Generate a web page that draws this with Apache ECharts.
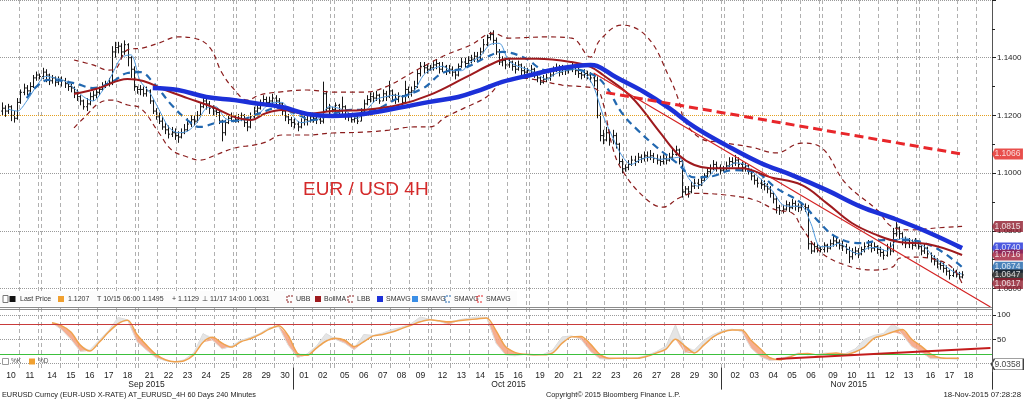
<!DOCTYPE html>
<html><head><meta charset="utf-8">
<script src="https://cdn.jsdelivr.net/npm/echarts@6/dist/echarts.min.js"></script>
<style>html,body{margin:0;padding:0;background:#fff;}#c{width:1024px;height:401px;}</style>
</head><body><div id="c"></div>
<script>
// ---------- DATA ----------
const tradingDays = ['Sep 10','Sep 11','*','Sep 14','Sep 15','Sep 16','Sep 17','Sep 18','*','Sep 21','Sep 22','Sep 23','Sep 24','Sep 25','*',
 'Sep 28','Sep 29','Sep 30','Oct 01','Oct 02','*','Oct 05','Oct 06','Oct 07','Oct 08','Oct 09','*','Oct 12','Oct 13','Oct 14','Oct 15','Oct 16','*',
 'Oct 19','Oct 20','Oct 21','Oct 22','Oct 23','*','Oct 26','Oct 27','Oct 28','Oct 29','Oct 30','*','Nov 02','Nov 03','Nov 04','Nov 05','Nov 06','*',
 'Nov 09','Nov 10','Nov 11','Nov 12','Nov 13','*','Nov 16','Nov 17','Nov 18'];
const monthNames = {Sep:'Sep 2015', Oct:'Oct 2015', Nov:'Nov 2015'};
const firstOpen = 1.1215;
const close = [
 1.1225,1.1215,1.1230,1.1200,1.1190,1.1245, 1.1280,1.1295,1.1285,1.1300,1.1330,1.1340, 1.1335,
 1.1350,1.1340,1.1320,1.1330,1.1315,1.1325, 1.1320,1.1310,1.1300,1.1295,1.1280,1.1265, 1.1250,1.1230,1.1240,1.1265,1.1270,1.1280, 1.1290,1.1300,1.1310,1.1315,1.1420,1.1435, 1.1440,1.1420,1.1445,1.1400,1.1360,1.1300, 1.1290,
 1.1290,1.1275,1.1285,1.1250,1.1215,1.1195, 1.1180,1.1160,1.1150,1.1135,1.1140,1.1130, 1.1125,1.1140,1.1150,1.1170,1.1185,1.1180, 1.1200,1.1230,1.1250,1.1240,1.1225,1.1215, 1.1210,1.1180,1.1140,1.1175,1.1190,1.1195, 1.1185,
 1.1190,1.1200,1.1175,1.1160,1.1195,1.1215, 1.1225,1.1240,1.1255,1.1245,1.1250,1.1260, 1.1250,1.1240,1.1215,1.1195,1.1185,1.1175, 1.1170,1.1160,1.1175,1.1185,1.1180,1.1195, 1.1190,1.1185,1.1180,1.1275,1.1225,1.1215, 1.1220,
 1.1235,1.1215,1.1230,1.1200,1.1195,1.1185, 1.1190,1.1180,1.1215,1.1240,1.1255,1.1265, 1.1260,1.1270,1.1250,1.1275,1.1265,1.1285, 1.1270,1.1255,1.1265,1.1245,1.1290,1.1280, 1.1285,1.1300,1.1345,1.1370,1.1365,1.1360, 1.1365,
 1.1375,1.1380,1.1360,1.1370,1.1355,1.1360, 1.1350,1.1340,1.1370,1.1385,1.1380,1.1390, 1.1395,1.1405,1.1400,1.1420,1.1445,1.1470, 1.1480,1.1460,1.1420,1.1385,1.1390,1.1375, 1.1385,1.1370,1.1360,1.1375,1.1355,1.1350, 1.1355,
 1.1360,1.1345,1.1330,1.1315,1.1325,1.1330, 1.1340,1.1355,1.1365,1.1350,1.1360,1.1355, 1.1360,1.1370,1.1355,1.1345,1.1340,1.1345, 1.1340,1.1330,1.1320,1.1200,1.1130,1.1115, 1.1140,1.1115,1.1130,1.1100,1.1040,1.1015, 1.1020,
 1.1030,1.1045,1.1040,1.1055,1.1050,1.1060, 1.1055,1.1060,1.1050,1.1045,1.1040,1.1050, 1.1045,1.1055,1.1065,1.1080,1.1040,1.0935, 1.0945,1.0935,1.0955,1.0965,1.0960,1.0975, 1.0990,1.1005,1.1015,1.1030,1.1020,1.1010, 1.1015,
 1.1025,1.1040,1.1035,1.1045,1.1030,1.1020, 1.1025,1.1010,1.0990,1.0975,1.0965,1.0960, 1.0955,1.0945,1.0930,1.0910,1.0880,1.0870, 1.0875,1.0890,1.0880,1.0895,1.0885,1.0880, 1.0885,1.0880,1.0755,1.0730,1.0745,1.0740, 1.0735,
 1.0750,1.0740,1.0755,1.0765,1.0760,1.0750, 1.0745,1.0735,1.0710,1.0725,1.0730,1.0720, 1.0735,1.0745,1.0750,1.0740,1.0745,1.0735, 1.0725,1.0715,1.0740,1.0730,1.0790,1.0810, 1.0790,1.0770,1.0755,1.0760,1.0750,1.0765, 1.0745,
 1.0730,1.0740,1.0720,1.0705,1.0695,1.0685, 1.0680,1.0670,1.0660,1.0645,1.0655,1.0650, 1.0640,1.0647];
const high = [
 1.1245,1.1235,1.1240,1.1235,1.1215,1.1260, 1.1290,1.1310,1.1305,1.1315,1.1340,1.1352, 1.1345,
 1.1365,1.1360,1.1345,1.1340,1.1335,1.1335, 1.1335,1.1330,1.1320,1.1310,1.1300,1.1290, 1.1270,1.1255,1.1260,1.1280,1.1285,1.1295, 1.1300,1.1315,1.1320,1.1330,1.1440,1.1455, 1.1455,1.1450,1.1460,1.1450,1.1405,1.1370, 1.1300,
 1.1305,1.1300,1.1300,1.1290,1.1255,1.1225, 1.1210,1.1195,1.1175,1.1165,1.1160,1.1155, 1.1145,1.1155,1.1170,1.1190,1.1200,1.1200, 1.1215,1.1245,1.1265,1.1260,1.1250,1.1235, 1.1225,1.1220,1.1185,1.1185,1.1205,1.1210, 1.1200,
 1.1205,1.1210,1.1205,1.1185,1.1210,1.1230, 1.1240,1.1255,1.1270,1.1265,1.1265,1.1275, 1.1270,1.1260,1.1245,1.1225,1.1205,1.1195, 1.1190,1.1180,1.1190,1.1200,1.1200,1.1210, 1.1205,1.1200,1.1195,1.1317,1.1285,1.1240, 1.1230,
 1.1245,1.1240,1.1265,1.1235,1.1210,1.1205, 1.1205,1.1200,1.1225,1.1255,1.1270,1.1280, 1.1280,1.1285,1.1275,1.1290,1.1285,1.1320, 1.1290,1.1275,1.1280,1.1270,1.1320,1.1300, 1.1300,1.1320,1.1360,1.1385,1.1385,1.1375, 1.1375,
 1.1390,1.1392,1.1385,1.1385,1.1375,1.1375, 1.1370,1.1360,1.1380,1.1400,1.1400,1.1405, 1.1410,1.1420,1.1420,1.1435,1.1465,1.1480, 1.1490,1.1495,1.1470,1.1430,1.1405,1.1400, 1.1400,1.1390,1.1385,1.1390,1.1380,1.1370, 1.1365,
 1.1375,1.1365,1.1350,1.1335,1.1340,1.1345, 1.1350,1.1370,1.1380,1.1375,1.1375,1.1370, 1.1375,1.1385,1.1375,1.1365,1.1355,1.1360, 1.1355,1.1350,1.1345,1.1335,1.1210,1.1150, 1.1160,1.1150,1.1150,1.1140,1.1105,1.1050, 1.1030,
 1.1045,1.1060,1.1060,1.1070,1.1065,1.1075, 1.1075,1.1080,1.1070,1.1065,1.1060,1.1065, 1.1060,1.1070,1.1085,1.1095,1.1085,1.1045, 1.0955,1.0955,1.0970,1.0980,1.0980,1.0990, 1.1000,1.1020,1.1030,1.1045,1.1040,1.1030, 1.1025,
 1.1040,1.1055,1.1055,1.1063,1.1055,1.1040, 1.1035,1.1030,1.1015,1.0995,1.0985,1.0980, 1.0975,1.0965,1.0955,1.0935,1.0920,1.0890, 1.0890,1.0905,1.0900,1.0910,1.0905,1.0895, 1.0895,1.0895,1.0890,1.0765,1.0760,1.0755, 1.0745,
 1.0760,1.0755,1.0770,1.0785,1.0780,1.0770, 1.0765,1.0755,1.0745,1.0740,1.0745,1.0740, 1.0745,1.0760,1.0768,1.0760,1.0760,1.0750, 1.0745,1.0735,1.0755,1.0760,1.0810,1.0830, 1.0815,1.0795,1.0780,1.0775,1.0770,1.0775, 1.0755,
 1.0750,1.0755,1.0745,1.0725,1.0715,1.0705, 1.0695,1.0690,1.0680,1.0665,1.0670,1.0665, 1.0658,1.0660];
const low = [
 1.1200,1.1195,1.1205,1.1180,1.1175,1.1185, 1.1240,1.1270,1.1270,1.1280,1.1295,1.1320, 1.1325,
 1.1325,1.1315,1.1305,1.1310,1.1300,1.1305, 1.1300,1.1295,1.1285,1.1280,1.1260,1.1250, 1.1235,1.1220,1.1215,1.1235,1.1250,1.1260, 1.1270,1.1285,1.1295,1.1300,1.1305,1.1400, 1.1415,1.1400,1.1410,1.1370,1.1330,1.1285, 1.1275,
 1.1270,1.1265,1.1265,1.1240,1.1205,1.1185, 1.1170,1.1150,1.1135,1.1120,1.1125,1.1115, 1.1105,1.1120,1.1135,1.1145,1.1160,1.1165, 1.1175,1.1195,1.1225,1.1220,1.1205,1.1200, 1.1195,1.1170,1.1110,1.1130,1.1170,1.1180, 1.1175,
 1.1175,1.1180,1.1160,1.1145,1.1155,1.1190, 1.1200,1.1220,1.1235,1.1230,1.1235,1.1240, 1.1235,1.1225,1.1200,1.1180,1.1170,1.1160, 1.1155,1.1145,1.1155,1.1165,1.1165,1.1175, 1.1175,1.1170,1.1170,1.1172,1.1215,1.1200, 1.1210,
 1.1210,1.1200,1.1205,1.1185,1.1180,1.1175, 1.1175,1.1170,1.1180,1.1210,1.1235,1.1245, 1.1245,1.1250,1.1240,1.1250,1.1250,1.1260, 1.1250,1.1240,1.1245,1.1235,1.1240,1.1260, 1.1265,1.1280,1.1295,1.1335,1.1345,1.1345, 1.1355,
 1.1355,1.1360,1.1345,1.1350,1.1340,1.1345, 1.1335,1.1325,1.1335,1.1365,1.1365,1.1370, 1.1380,1.1385,1.1385,1.1395,1.1415,1.1440, 1.1460,1.1445,1.1410,1.1375,1.1370,1.1360, 1.1365,1.1355,1.1345,1.1355,1.1340,1.1340, 1.1345,
 1.1345,1.1330,1.1315,1.1305,1.1310,1.1315, 1.1320,1.1335,1.1350,1.1335,1.1340,1.1340, 1.1345,1.1350,1.1340,1.1330,1.1325,1.1330, 1.1325,1.1315,1.1300,1.1190,1.1110,1.1100, 1.1110,1.1095,1.1100,1.1085,1.1030,1.1000, 1.1005,
 1.1010,1.1025,1.1025,1.1035,1.1035,1.1040, 1.1040,1.1045,1.1035,1.1030,1.1025,1.1030, 1.1030,1.1040,1.1050,1.1060,1.1030,1.0915, 1.0925,1.0915,1.0930,1.0945,1.0945,1.0955, 1.0970,1.0985,1.0995,1.1010,1.1005,1.0995, 1.1005,
 1.1005,1.1020,1.1020,1.1025,1.1015,1.1005, 1.1005,1.0995,1.0975,1.0960,1.0950,1.0945, 1.0940,1.0930,1.0915,1.0895,1.0860,1.0855, 1.0860,1.0870,1.0865,1.0875,1.0870,1.0865, 1.0870,1.0865,1.0735,1.0720,1.0725,1.0725, 1.0725,
 1.0725,1.0725,1.0735,1.0745,1.0745,1.0735, 1.0730,1.0720,1.0688,1.0700,1.0715,1.0705, 1.0715,1.0725,1.0735,1.0725,1.0730,1.0720, 1.0710,1.0700,1.0710,1.0715,1.0725,1.0780, 1.0770,1.0750,1.0740,1.0740,1.0735,1.0745, 1.0735,
 1.0715,1.0720,1.0705,1.0690,1.0680,1.0670, 1.0665,1.0655,1.0645,1.0631,1.0640,1.0638, 1.0632,1.0635];

// moving averages / bands as [bar, value]
const thinBlue = [[2,1.1222],[5,1.1215],[8,1.1250],[11,1.1300],[14,1.1335],[17,1.1330],[20,1.1320],[23,1.1295],[26,1.1265],[29,1.1250],[32,1.1285],[35,1.1340],[38,1.1400],[41,1.1410],[44,1.1320],[47,1.1280],[50,1.1220],[53,1.1160],[56,1.1140],[59,1.1145],[62,1.1175],[65,1.1225],[68,1.1230],[71,1.1190],[74,1.1180],[77,1.1185],[80,1.1185],[83,1.1220],[86,1.1245],[89,1.1245],[92,1.1205],[95,1.1175],[98,1.1180],[101,1.1190],[104,1.1230],[107,1.1225],[110,1.1210],[113,1.1190],[116,1.1220],[119,1.1255],[122,1.1265],[125,1.1270],[128,1.1265],[131,1.1285],[134,1.1340],[137,1.1362],[140,1.1370],[143,1.1355],[146,1.1355],[149,1.1385],[152,1.1405],[155,1.1445],[158,1.1450],[161,1.1390],[164,1.1370],[167,1.1360],[170,1.1345],[173,1.1325],[176,1.1345],[179,1.1355],[182,1.1360],[185,1.1347],[188,1.1300],[191,1.1200],[194,1.1125],[197,1.1060],[200,1.1030],[203,1.1048],[206,1.1055],[209,1.1048],[212,1.1050],[215,1.1055],[218,1.0985],[221,1.0955],[224,1.0980],[227,1.1015],[230,1.1018],[233,1.1035],[236,1.1030],[239,1.1000],[242,1.0970],[245,1.0935],[248,1.0890],[251,1.0885],[254,1.0885],[257,1.0825],[260,1.0745],[263,1.0745],[266,1.0757],[269,1.0735],[272,1.0720],[275,1.0740],[278,1.0742],[281,1.0730],[284,1.0765],[287,1.0775],[290,1.0760],[293,1.0745],[296,1.0710],[299,1.0685],[302,1.0660],[305,1.0650]];
const dashBlue = [[8,1.1260],[11,1.1299],[15,1.1323],[23,1.1312],[29,1.1295],[35,1.1316],[40,1.1347],[44,1.1350],[48,1.1316],[54,1.1236],[59,1.1184],[63,1.1160],[69,1.1177],[76,1.1184],[82,1.1208],[88,1.1226],[93,1.1208],[99,1.1184],[105,1.1205],[111,1.1219],[117,1.1219],[126,1.1260],[134,1.1295],[140,1.1347],[147,1.1364],[154,1.1402],[159,1.1420],[166,1.1400],[173,1.1357],[181,1.1360],[188,1.1340],[192,1.1299],[197,1.1208],[202,1.1149],[208,1.1090],[215,1.1030],[220,1.0985],[226,1.0990],[232,1.1010],[239,1.1004],[246,1.0948],[254,1.0896],[259,1.0837],[265,1.0779],[273,1.0757],[280,1.0768],[287,1.0768],[296,1.0744],[305,1.0674]];
const bollMA = [[23,1.1274],[31,1.1295],[40,1.1326],[45,1.1319],[52,1.1288],[59,1.1260],[67,1.1229],[74,1.1194],[79,1.1184],[84,1.1208],[89,1.1219],[97,1.1205],[105,1.1215],[115,1.1219],[126,1.1236],[136,1.1271],[147,1.1330],[157,1.1385],[161,1.1396],[170,1.1396],[181,1.1385],[187,1.1368],[191,1.1340],[200,1.1264],[209,1.1142],[215,1.1063],[220,1.1028],[225,1.1017],[235,1.1017],[244,1.0986],[254,1.0959],[262,1.0896],[270,1.0827],[278,1.0785],[285,1.0761],[294,1.0754],[305,1.0716]];
const thickBlue = [[48,1.1295],[56,1.1288],[65,1.1264],[74,1.1253],[80,1.1243],[89,1.1229],[97,1.1205],[105,1.1198],[115,1.1205],[126,1.1226],[136,1.1247],[145,1.1264],[152,1.1288],[159,1.1316],[168,1.1340],[176,1.1360],[187,1.1375],[189,1.1372],[195,1.1333],[204,1.1281],[212,1.1225],[220,1.1160],[230,1.1097],[241,1.1035],[251,1.0993],[262,1.0941],[273,1.0883],[283,1.0844],[294,1.0796],[305,1.0740]];
const ubb = [[23,1.1392],[29,1.1375],[34,1.1357],[36,1.1360],[40,1.1427],[45,1.1434],[50,1.1451],[56,1.1472],[61,1.1468],[66,1.1437],[70,1.1347],[74,1.1288],[78,1.1253],[82,1.1271],[88,1.1281],[97,1.1288],[105,1.1281],[115,1.1281],[122,1.1299],[133,1.1364],[141,1.1409],[149,1.1444],[156,1.1485],[161,1.1468],[173,1.1472],[181,1.1468],[187,1.1402],[190,1.1461],[197,1.1513],[205,1.1472],[212,1.1333],[215,1.1253],[217,1.1180],[222,1.1120],[228,1.1107],[238,1.1090],[246,1.1070],[254,1.1104],[260,1.1091],[268,1.0965],[278,1.0872],[283,1.0813],[289,1.0803],[297,1.0810],[305,1.0815]];
const lbb = [[23,1.1157],[27,1.1201],[31,1.1243],[35,1.1253],[40,1.1236],[44,1.1226],[50,1.1139],[54,1.1080],[59,1.1056],[63,1.1045],[68,1.1063],[74,1.1087],[80,1.1097],[84,1.1108],[89,1.1132],[97,1.1132],[105,1.1139],[115,1.1142],[123,1.1149],[131,1.1160],[136,1.1160],[141,1.1194],[147,1.1226],[154,1.1264],[159,1.1316],[164,1.1330],[170,1.1323],[178,1.1305],[185,1.1299],[189,1.1290],[191,1.1243],[194,1.1090],[197,1.1011],[204,1.0917],[210,1.0882],[215,1.0913],[220,1.0930],[230,1.0924],[239,1.0907],[246,1.0872],[251,1.0862],[254,1.0813],[260,1.0727],[268,1.0681],[277,1.0664],[283,1.0675],[285,1.0705],[289,1.0709],[297,1.0699],[302,1.0671],[305,1.0617]];
const trendDash = [[192,1.1279],[305,1.1066]];
const trendThin = [[188,1.1347],[314,1.0536]];
const levelLine = 1.1207;

// stochastics
const stochBar = [16,19,22,25,28,31,34,37,40,43,46,49,52,55,58,61,64,67,70,73,76,79,82,85,88,91,94,97,100,103,106,109,112,115,118,121,124,127,130,133,136,139,142,145,148,151,154,157,160,163,166,169,172,175,178,181,184,187,190,193,196,199,202,205,208,211,214,217,220,223,226,229,232,235,238,241,244,247,250,253,256,259,262,265,268,271,274,277,280,283,286,289,292,295,298,301,304];
const stochD = [84,78,65,38,26,44,65,82,89,60, 38,19,8,4,6,18,44,54,42,34, 45,51,60,71,78,58,21,17,32,46, 52,48,35,45,57,60,65,72,79,86, 90,88,86,88,90,92,94,68,35,23, 19,18,18,22,42,55,56,40,19,11, 11,11,11,15,22,30,50,36,22,38, 55,65,69,69,48,30,12,8,13,20, 21,18,20,22,19,24,34,52,58,65, 70,50,36,20,12,11,11];
const stochK = [84,70,50,25,28,48,68,95,90,45, 28,12,6,3,8,22,62,48,30,36, 48,54,62,74,76,38,12,20,36,62, 50,42,28,60,58,63,70,75,82,96, 91,87,80,90,93,96,95,42,18,16, 19,17,19,28,55,57,50,25,10,9, 11,11,12,17,25,36,80,22,28,48, 60,68,71,66,32,14,6,10,15,22, 18,19,22,19,21,30,50,58,62,82, 60,35,24,10,10,10,9.0358];
const stochTrend = [[246,9.5],[314,32]];
const stochUpper = 80, stochLower = 20;

// ---------- BUILD ----------
const totalSlots = 315;
const cats = [], daySep = new Set(), dayLab = {}, catMonth = [];
tradingDays.forEach((d, k) => {
  if (d === '*') { daySep.add(cats.length); cats.push('Sun'); catMonth.push(tradingDays[k+1].split(' ')[0]); return; }
  daySep.add(cats.length); dayLab[cats.length + 3] = d.split(' ')[1];
  for (let h = 0; h < 6; h++) { cats.push(d + ' ' + String(2 + 4*h).padStart(2,'0') + ':00'); catMonth.push(d.split(' ')[0]); }
});
daySep.add(cats.length);
daySep.delete(0);
while (cats.length < totalSlots) { cats.push(''); catMonth.push(''); }
const mStart = {}, mEnd = {};
catMonth.forEach((m, i) => { if (!m) return; if (!(m in mStart)) mStart[m] = i; mEnd[m] = i; });
const monthTick = new Set(Object.values(mStart).filter(i => i > 0));
const monthLab = {};
Object.keys(mStart).forEach(m => { monthLab[Math.round((mStart[m] + mEnd[m]) / 2)] = monthNames[m]; });

const ohlc = close.map((c, i) => [i, i ? close[i-1] : firstOpen, c, low[i], high[i]]);
const sBase = stochBar.map((b, i) => [b, Math.min(stochK[i], stochD[i])]);
const sRed = stochBar.map((b, i) => [b, Math.max(stochD[i] - stochK[i], 0)]);
const sGray = stochBar.map((b, i) => [b, Math.max(stochK[i] - stochD[i], 0)]);
const lastBar = totalSlots - 1;

const badgeSym = 'path://M0,5L3,0L32,0L32,10L3,10Z';
const badges = [
  [trendDash[trendDash.length-1][1], '#e2231f'],
  [ubb[ubb.length-1][1], '#8e1a2c'],
  [thickBlue[thickBlue.length-1][1], '#1f2fd8'],
  [bollMA[bollMA.length-1][1], '#a01c38'],
  [dashBlue[dashBlue.length-1][1], '#1e64aa'],
  [close[close.length-1], '#111111'],
  [lbb[lbb.length-1][1], '#8e1a2c']
].map(([v, c]) => ({value: [lastBar, v], itemStyle: {color: c}}));

const FONT = 'Liberation Sans, Arial, sans-serif';
const mkLine = (data, color, width, type, extra) => Object.assign({
  type: 'line', xAxisIndex: 0, yAxisIndex: 0, data: data, symbol: 'none', smooth: 0.4,
  lineStyle: {color: color, width: width, type: type || 'solid'}, silent: true, z: 4
}, extra || {});

const txt = (t, x, y, size, color, align) => ({
  type: 'text', z: 101, style: {text: t, x: x, y: y, fill: color || '#333', font: size + 'px ' + FONT, verticalAlign: 'middle', align: align || 'left'}
});
const box = (x, y, w, h, fill, stroke) => ({type: 'rect', z: 101, shape: {x: x, y: y, width: w, height: h}, style: {fill: fill, stroke: stroke || null, lineWidth: 1}});
const bracket = (x, y, color) => ({type: 'polyline', z: 101, shape: {points: [[x+6,y],[x,y],[x,y+6],[x+6,y+6]]}, style: {stroke: color, lineWidth: 1, lineDash: [2,1], fill: null}});

const ly = 299;
const option = {
  animation: false,
  backgroundColor: '#ffffff',
  textStyle: {fontFamily: FONT},
  grid: [
    {left: 0, right: 32, top: 0, height: 288.5, containLabel: false, outerBoundsMode: 'none'},
    {left: 0, right: 32, top: 315, height: 48.6, containLabel: false, outerBoundsMode: 'none'},
    {left: 0, right: 32, top: 0, height: 368, containLabel: false, outerBoundsMode: 'none'}
  ],
  xAxis: [
    {type: 'category', gridIndex: 0, position: 'bottom', data: cats, axisLine: {show: false}, axisTick: {show: false}, axisLabel: {show: false}, splitLine: {show: false}},
    {type: 'category', gridIndex: 1, position: 'bottom', data: cats, axisLine: {show: false}, axisTick: {show: false}, splitLine: {show: false},
      axisLabel: {interval: (i) => (i in dayLab), formatter: (v, i) => dayLab[i] || '', fontSize: 8.5, color: '#222', margin: 8, fontFamily: FONT}},
    {type: 'category', gridIndex: 1, position: 'bottom', data: cats, offset: 4, axisLine: {show: false}, splitLine: {show: false},
      axisTick: {show: true, interval: (i) => monthTick.has(i), length: 22, lineStyle: {color: '#333', width: 1}},
      axisLabel: {interval: (i) => (i in monthLab), formatter: (v, i) => monthLab[i] || '', fontSize: 8.5, color: '#222', margin: 13, fontFamily: FONT}},
    {type: 'category', gridIndex: 2, position: 'bottom', data: cats, axisLine: {show: false}, axisTick: {show: false}, axisLabel: {show: false},
      splitLine: {show: true, interval: (i) => daySep.has(i), lineStyle: {color: '#b0b0b0', width: 1, type: [4, 3]}}}
  ],
  yAxis: [
    {type: 'value', gridIndex: 0, position: 'right', min: 1.06, max: 1.16, interval: 0.02,
      axisLine: {show: true, lineStyle: {color: '#555'}},
      axisTick: {show: true, length: 4, lineStyle: {color: '#222'}},
      minorTick: {show: true, splitNumber: 2, length: 3, lineStyle: {color: '#222'}},
      axisLabel: {formatter: (v) => v.toFixed(4), fontSize: 8, color: '#222', margin: 5, showMaxLabel: false, fontFamily: FONT},
      splitLine: {show: true, lineStyle: {color: '#9a9a9a', type: 'dotted', width: 1}}},
    {type: 'value', gridIndex: 1, position: 'right', min: 0, max: 100, interval: 50,
      axisLine: {show: true, lineStyle: {color: '#555'}},
      axisTick: {show: true, length: 4, lineStyle: {color: '#222'}},
      axisLabel: {fontSize: 8, color: '#222', margin: 5, showMinLabel: false, fontFamily: FONT},
      splitLine: {show: true, lineStyle: {color: '#9a9a9a', type: 'dotted', width: 1}}},
    {type: 'value', gridIndex: 2, show: false, min: 0, max: 1}
  ],
  series: [
    {type: 'line', xAxisIndex: 3, yAxisIndex: 2, data: [], silent: true},
    {type: 'custom', xAxisIndex: 0, yAxisIndex: 0, data: ohlc, z: 3, silent: true,
      encode: {x: 0, y: [1, 2, 3, 4]},
      renderItem: function (params, api) {
        const x = api.value(0), o = api.value(1), c = api.value(2), l = api.value(3), h = api.value(4);
        const top = api.coord([x, Math.max(h, o, c)]), bot = api.coord([x, Math.min(l, o, c)]);
        const po = api.coord([x, o]), pc = api.coord([x, c]);
        const w = api.size([1, 0])[0] * 0.45;
        const cx = Math.round(top[0]) + 0.5;
        const st = {stroke: '#151515', lineWidth: 1};
        return {type: 'group', children: [
          {type: 'line', shape: {x1: cx, y1: top[1], x2: cx, y2: bot[1]}, style: st},
          {type: 'line', shape: {x1: cx - w, y1: po[1], x2: cx, y2: po[1]}, style: st},
          {type: 'line', shape: {x1: cx, y1: pc[1], x2: cx + w, y2: pc[1]}, style: st}
        ]};
      }},
    mkLine(thinBlue, '#4f98dc', 1, 'solid', {smooth: 0.3,
      markLine: {silent: true, symbol: 'none', label: {show: false}, lineStyle: {color: '#e3a020', type: 'dotted', width: 1}, data: [{yAxis: levelLine}]}}),
    mkLine(ubb, '#8a1c1c', 1.2, [5, 4]),
    mkLine(lbb, '#8a1c1c', 1.2, [5, 4]),
    mkLine(dashBlue, '#2268b0', 2.2, [7, 5]),
    mkLine(bollMA, '#9e1a1e', 2),
    mkLine(thickBlue, '#1c30d8', 4.5, 'solid', {z: 5}),
    mkLine(trendDash, '#e8262a', 3, [9, 5], {smooth: false, z: 5}),
    mkLine(trendThin, '#d42222', 1.2, 'solid', {smooth: false, clip: false, z: 5}),
    {type: 'scatter', xAxisIndex: 0, yAxisIndex: 0, data: badges, clip: false, silent: true, z: 20,
      symbol: badgeSym, symbolSize: [31, 11], symbolOffset: [17, 0], symbolKeepAspect: false,
      label: {show: true, position: 'inside', formatter: (p) => p.value[1].toFixed(4), color: '#fff', fontSize: 8.5, fontFamily: FONT}},
    // stochastics
    {type: 'line', xAxisIndex: 1, yAxisIndex: 1, data: sBase, stack: 'st', symbol: 'none', lineStyle: {opacity: 0}, silent: true, z: 2},
    {type: 'line', xAxisIndex: 1, yAxisIndex: 1, data: sRed, stack: 'st', symbol: 'none', lineStyle: {opacity: 0}, areaStyle: {color: '#f5a07c', opacity: 0.85}, silent: true, z: 2},
    {type: 'line', xAxisIndex: 1, yAxisIndex: 1, data: sGray, stack: 'st', symbol: 'none', lineStyle: {opacity: 0}, areaStyle: {color: '#e2e2e2', opacity: 0.9}, silent: true, z: 2},
    {type: 'line', xAxisIndex: 1, yAxisIndex: 1, data: stochBar.map((b, i) => [b, stochK[i]]), symbol: 'none', lineStyle: {color: '#dcdcdc', width: 1}, silent: true, z: 3},
    {type: 'line', xAxisIndex: 1, yAxisIndex: 1, data: stochBar.map((b, i) => [b, stochD[i]]), symbol: 'none', smooth: 0.3, lineStyle: {color: '#efa24e', width: 1.5}, silent: true, z: 4,
      markLine: {silent: true, symbol: 'none', label: {show: false}, data: [
        {yAxis: stochUpper, lineStyle: {color: '#c83a3a', type: 'solid', width: 1}},
        {yAxis: stochLower, lineStyle: {color: '#3cbf3c', type: 'solid', width: 1}}]}},
    {type: 'line', xAxisIndex: 1, yAxisIndex: 1, data: stochTrend, symbol: 'none', lineStyle: {color: '#c41c1c', width: 2}, silent: true, z: 5},
    {type: 'scatter', xAxisIndex: 1, yAxisIndex: 1, clip: false, silent: true, z: 20,
      data: [{value: [lastBar, stochK[stochK.length-1]]}],
      symbol: badgeSym, symbolSize: [32, 11], symbolOffset: [17, 5], symbolKeepAspect: false,
      itemStyle: {color: '#ffffff', borderColor: '#111', borderWidth: 1},
      label: {show: true, position: 'inside', formatter: (p) => p.value[1].toFixed(4), color: '#111', fontSize: 8.5, fontFamily: FONT}}
  ],
  graphic: [
    // legend strip
    box(0, 291, 517, 15, '#fcfcfc'),
    box(3, 295.5, 5, 7, '#fff', '#777'), box(9.5, 296, 6, 6, '#111'),
    txt('Last Price', 20, ly, 7, '#333'),
    box(58, 296, 6, 6, '#f0a030'),
    txt('1.1207', 68, ly, 7, '#333'),
    txt('T 10/15 06:00 1.1495', 97, ly, 7, '#333'),
    txt('+ 1.1129', 172, ly, 7, '#333'),
    txt('\u22A5 11/17 14:00 1.0631', 202, ly, 7, '#333'),
    bracket(287, 296, '#8a1c1c'), txt('UBB', 296, ly, 7, '#333'),
    box(315, 296, 6, 6, '#9e1a1e'), txt('BollMA', 324, ly, 7, '#333'),
    bracket(348, 296, '#8a1c1c'), txt('LBB', 357, ly, 7, '#333'),
    box(377, 296, 6, 6, '#1c30d8'), txt('SMAVG', 386, ly, 7, '#333'),
    box(412, 296, 6, 6, '#3a8ee6'), txt('SMAVG', 421, ly, 7, '#333'),
    bracket(445, 296, '#2268b0'), txt('SMAVG', 454, ly, 7, '#333'),
    bracket(477, 296, '#e8262a'), txt('SMAVG', 486, ly, 7, '#333'),
    // panel separators
    {type: 'line', z: 100, shape: {x1: 0, y1: 307.5, x2: 992, y2: 307.5}, style: {stroke: '#8c8c8c', lineWidth: 1}},
    {type: 'line', z: 100, shape: {x1: 0, y1: 309.5, x2: 992, y2: 309.5}, style: {stroke: '#8c8c8c', lineWidth: 1}},
    {type: 'line', z: 100, shape: {x1: 992.5, y1: 286, x2: 992.5, y2: 372}, style: {stroke: '#555', lineWidth: 1}},
    // stoch legend
    box(2.5, 358.5, 6, 6, '#fff', '#999'), txt('%K', 11, 361.5, 6.5, '#555'),
    box(29, 358.5, 6, 6, '#f0a030'), txt('%D', 38, 361.5, 6.5, '#555'),
    // title
    txt('EUR / USD 4H', 303, 190, 19, '#d42a2a'),
    // footer
    txt('EURUSD Curncy (EUR-USD X-RATE) AT_EURUSD_4H 60 Days 240 Minutes', 2, 395, 7.3, '#222'),
    txt('Copyright\u00A9 2015 Bloomberg Finance L.P.', 546, 395, 7.3, '#222'),
    txt('18-Nov-2015 07:28:28', 1021, 395, 7.8, '#222', 'right')
  ]
};
const chart = echarts.init(document.getElementById('c'), null, {renderer: 'canvas'});
chart.setOption(option);
</script>
</body></html>
